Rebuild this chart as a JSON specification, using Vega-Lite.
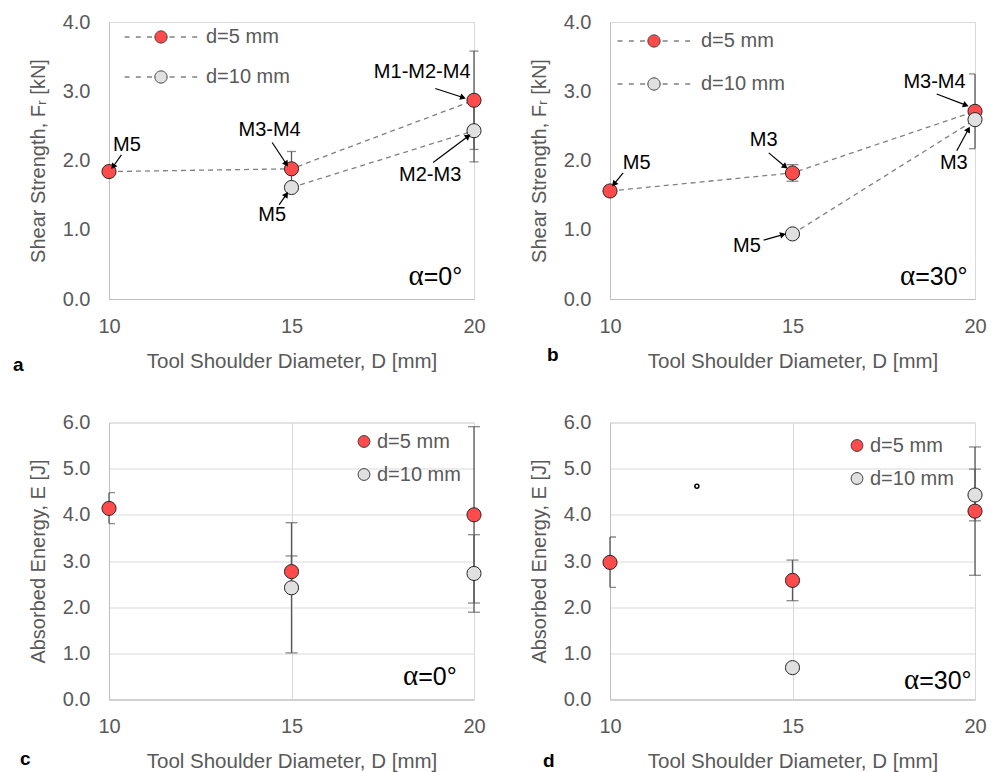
{
  "$schema": "https://vega.github.io/schema/vega-lite/v6.json",
  "padding": {"left": 12, "top": 11, "right": 5, "bottom": 5},
  "background": "white",
  "config": {
    "font": "Liberation Sans",
    "view": {"stroke": "#D9D9D9", "strokeWidth": 1},
    "axis": {"labelFontSize": 20, "labelColor": "#595959", "titleFontSize": 20.5, "titleFontWeight": "normal", "titleColor": "#595959", "ticks": false, "tickSize": 0, "domainColor": "#BFBFBF", "gridColor": "#D9D9D9", "labelPadding": 17, "labelFlush": false},
    "axisY": {"labelPadding": 19, "titleFontSize": 20},
    "legend": {"padding": 0, "labelFontSize": 20, "labelColor": "#595959", "title": null}
  },
  "datasets": {
    "a_pts": [
      {"x": 10, "y": 1.84, "s": "d=5 mm"}, {"x": 15, "y": 1.88, "s": "d=5 mm"}, {"x": 20, "y": 2.87, "s": "d=5 mm"},
      {"x": 15, "y": 1.61, "s": "d=10 mm"}, {"x": 20, "y": 2.43, "s": "d=10 mm"}
    ],
    "a_err": [
      {"x": 15, "lo": 1.63, "hi": 2.13, "s": "d=5 mm"}, {"x": 20, "lo": 2.16, "hi": 3.58, "s": "d=5 mm"}, {"x": 20, "lo": 1.98, "hi": 2.88, "s": "d=10 mm"}
    ],
    "a_lab": [
      {"x": 10.49, "y": 2.23, "label": "M5"}, {"x": 14.40, "y": 2.44, "label": "M3-M4"}, {"x": 14.47, "y": 1.22, "label": "M5"},
      {"x": 18.58, "y": 3.28, "label": "M1-M2-M4"}, {"x": 18.80, "y": 1.79, "label": "M2-M3"}
    ],
    "a_arr": [
      {"x": 10.34, "y": 2.08, "x2": 10.11, "y2": 1.91}, {"x": 14.47, "y": 2.26, "x2": 14.86, "y2": 1.95}, {"x": 14.66, "y": 1.36, "x2": 14.86, "y2": 1.51},
      {"x": 18.94, "y": 3.04, "x2": 19.70, "y2": 2.91}, {"x": 18.88, "y": 1.97, "x2": 19.84, "y2": 2.35}
    ],
    "b_pts": [
      {"x": 10, "y": 1.56, "s": "d=5 mm"}, {"x": 15, "y": 1.82, "s": "d=5 mm"}, {"x": 20, "y": 2.71, "s": "d=5 mm"},
      {"x": 15, "y": 0.94, "s": "d=10 mm"}, {"x": 20, "y": 2.59, "s": "d=10 mm"}
    ],
    "b_err": [
      {"x": 15, "lo": 1.70, "hi": 1.94, "s": "d=5 mm"}, {"x": 20, "lo": 2.17, "hi": 3.25, "s": "d=5 mm"}
    ],
    "b_lab": [
      {"x": 10.73, "y": 1.96, "label": "M5"}, {"x": 14.21, "y": 2.29, "label": "M3"}, {"x": 13.75, "y": 0.77, "label": "M5"},
      {"x": 18.89, "y": 3.13, "label": "M3-M4"}, {"x": 19.42, "y": 1.96, "label": "M3"}
    ],
    "b_arr": [
      {"x": 10.36, "y": 1.82, "x2": 10.11, "y2": 1.66}, {"x": 14.35, "y": 2.11, "x2": 14.80, "y2": 1.91}, {"x": 14.21, "y": 0.85, "x2": 14.74, "y2": 0.93},
      {"x": 18.95, "y": 2.96, "x2": 19.75, "y2": 2.80}, {"x": 19.50, "y": 2.14, "x2": 19.82, "y2": 2.45}
    ],
    "c_pts": [
      {"x": 10, "y": 4.14, "s": "d=5 mm"}, {"x": 15, "y": 2.77, "s": "d=5 mm"}, {"x": 20, "y": 4.00, "s": "d=5 mm"},
      {"x": 15, "y": 2.42, "s": "d=10 mm"}, {"x": 20, "y": 2.73, "s": "d=10 mm"}
    ],
    "c_err": [
      {"x": 10, "lo": 3.81, "hi": 4.48, "s": "d=5 mm"}, {"x": 15, "lo": 2.43, "hi": 3.11, "s": "d=5 mm"}, {"x": 20, "lo": 2.09, "hi": 5.91, "s": "d=5 mm"},
      {"x": 15, "lo": 1.01, "hi": 3.83, "s": "d=10 mm"}, {"x": 20, "lo": 1.89, "hi": 3.57, "s": "d=10 mm"}
    ],
    "d_pts": [
      {"x": 10, "y": 2.97, "s": "d=5 mm"}, {"x": 15, "y": 2.58, "s": "d=5 mm"}, {"x": 20, "y": 4.08, "s": "d=5 mm"},
      {"x": 15, "y": 0.69, "s": "d=10 mm"}, {"x": 20, "y": 4.43, "s": "d=10 mm"}
    ],
    "d_err": [
      {"x": 10, "lo": 2.43, "hi": 3.52, "s": "d=5 mm"}, {"x": 15, "lo": 2.14, "hi": 3.02, "s": "d=5 mm"}, {"x": 20, "lo": 2.69, "hi": 5.47, "s": "d=5 mm"},
      {"x": 20, "lo": 3.87, "hi": 4.99, "s": "d=10 mm"}
    ],
    "d_stray": [{"x": 12.38, "y": 4.62}],
    "alpha": [
      {"panel": "a", "x": 18.62, "y": 0.32, "sym": "α", "rest": "=0°"},
      {"panel": "b", "x": 18.36, "y": 0.32, "sym": "α", "rest": "=30°"},
      {"panel": "c", "x": 18.47, "y": 0.49, "sym": "α", "rest": "=0°"},
      {"panel": "d", "x": 18.47, "y": 0.40, "sym": "α", "rest": "=30°"}
    ]
  },
  "concat": [
    {
      "width": 365, "height": 277,
      "title": {"text": "a", "orient": "bottom", "anchor": "start", "frame": "group", "fontSize": 19, "fontWeight": "bold", "color": "#000000", "dx": -96, "dy": -16, "offset": 0},
      "encoding": {
        "x": {"field": "x", "type": "quantitative", "scale": {"domain": [10, 20], "nice": false, "zero": false}, "axis": {"values": [10, 15, 20], "title": "Tool Shoulder Diameter, D [mm]", "grid": false, "titlePadding": 15}},
        "y": {"field": "y", "type": "quantitative", "scale": {"domain": [0, 4], "nice": false, "zero": false}, "axis": {"values": [0, 1, 2, 3, 4], "format": ".1f", "title": "Shear Strength, Fᵣ [kN]", "grid": false, "titlePadding": 14}}
      },
      "layer": [
        {"data": {"name": "a_pts"}, "mark": {"type": "line", "stroke": "#808080", "strokeDash": [5, 4], "strokeWidth": 1.3}, "encoding": {"detail": {"field": "s"}, "order": {"field": "x"}}},
        {"data": {"name": "a_err"}, "mark": {"type": "rule", "color": "#595959", "strokeWidth": 1.3}, "encoding": {"y": {"field": "lo", "type": "quantitative", "scale": {"domain": [0, 4], "nice": false, "zero": false}, "axis": {"values": [0, 1, 2, 3, 4], "format": ".1f", "title": "Shear Strength, Fᵣ [kN]", "grid": false, "titlePadding": 14}}, "y2": {"field": "hi"}}},
        {"data": {"name": "a_err"}, "mark": {"type": "tick", "orient": "horizontal", "color": "#595959", "thickness": 1.3, "size": 9}, "encoding": {"y": {"field": "lo", "type": "quantitative", "scale": {"domain": [0, 4], "nice": false, "zero": false}, "axis": {"values": [0, 1, 2, 3, 4], "format": ".1f", "title": "Shear Strength, Fᵣ [kN]", "grid": false, "titlePadding": 14}}}},
        {"data": {"name": "a_err"}, "mark": {"type": "tick", "orient": "horizontal", "color": "#595959", "thickness": 1.3, "size": 9}, "encoding": {"y": {"field": "hi", "type": "quantitative", "scale": {"domain": [0, 4], "nice": false, "zero": false}, "axis": {"values": [0, 1, 2, 3, 4], "format": ".1f", "title": "Shear Strength, Fᵣ [kN]", "grid": false, "titlePadding": 14}}}},
        {"data": {"name": "a_pts"}, "mark": {"type": "point", "shape": "circle", "filled": true, "size": 200, "stroke": "#262626", "strokeWidth": 1, "opacity": 1},
          "encoding": {"fill": {"field": "s", "type": "nominal", "scale": {"domain": ["d=5 mm", "d=10 mm"], "range": ["#FF4B4B", "#E0E0E0"]},
            "legend": {"orient": "none", "legendX": 42, "legendY": 5, "symbolType": "M-5.95,0L-5.14,0M-4.11,0L-3.3,0M-2.28,0L-1.46,0M1.41,0L2.23,0M3.25,0L4.07,0M5.09,0L5.9,0M1,0A1,1,0,1,1,-1,0A1,1,0,1,1,1,0Z", "symbolSize": 150, "symbolStrokeColor": "#404040", "symbolStrokeWidth": 1, "labelOffset": 35, "rowPadding": 20}}}},
        {"data": {"name": "a_arr"}, "mark": {"type": "rule", "color": "#000000", "strokeWidth": 1.2}, "encoding": {"x2": {"field": "x2"}, "y2": {"field": "y2"}}},
        {"data": {"name": "a_arr"}, "transform": [{"calculate": "atan2((datum.x2-datum.x)*36.5,(datum.y2-datum.y)*69.25)*180/PI", "as": "ang"}],
          "mark": {"type": "point", "shape": "triangle-up", "filled": true, "color": "#000000", "size": 45, "opacity": 1},
          "encoding": {"x": {"field": "x2", "type": "quantitative", "scale": {"domain": [10, 20], "nice": false, "zero": false}, "axis": {"values": [10, 15, 20], "title": "Tool Shoulder Diameter, D [mm]", "grid": false, "titlePadding": 15}}, "y": {"field": "y2", "type": "quantitative", "scale": {"domain": [0, 4], "nice": false, "zero": false}, "axis": {"values": [0, 1, 2, 3, 4], "format": ".1f", "title": "Shear Strength, Fᵣ [kN]", "grid": false, "titlePadding": 14}}, "angle": {"field": "ang", "type": "quantitative", "scale": null}}},
        {"data": {"name": "a_lab"}, "mark": {"type": "text", "fontSize": 20, "color": "#000000", "align": "center", "baseline": "middle"}, "encoding": {"text": {"field": "label"}}},
        {"data": {"name": "alpha"}, "transform": [{"filter": "datum.panel == 'a'"}], "mark": {"type": "text", "font": "Liberation Serif", "fontSize": 29, "color": "#000000", "align": "right", "baseline": "middle", "dy": -1}, "encoding": {"text": {"field": "sym"}}},
        {"data": {"name": "alpha"}, "transform": [{"filter": "datum.panel == 'a'"}], "mark": {"type": "text", "fontSize": 25, "color": "#000000", "align": "left", "baseline": "middle"}, "encoding": {"text": {"field": "rest"}}}
      ]
    },
    {
      "width": 365, "height": 277,
      "title": {"text": "b", "orient": "bottom", "anchor": "start", "frame": "group", "fontSize": 19, "fontWeight": "bold", "color": "#000000", "dx": -63, "dy": -26, "offset": 0},
      "encoding": {
        "x": {"field": "x", "type": "quantitative", "scale": {"domain": [10, 20], "nice": false, "zero": false}, "axis": {"values": [10, 15, 20], "title": "Tool Shoulder Diameter, D [mm]", "grid": false, "titlePadding": 15}},
        "y": {"field": "y", "type": "quantitative", "scale": {"domain": [0, 4], "nice": false, "zero": false}, "axis": {"values": [0, 1, 2, 3, 4], "format": ".1f", "title": "Shear Strength, Fᵣ [kN]", "grid": false, "titlePadding": 14}}
      },
      "layer": [
        {"data": {"name": "b_pts"}, "mark": {"type": "line", "stroke": "#808080", "strokeDash": [5, 4], "strokeWidth": 1.3}, "encoding": {"detail": {"field": "s"}, "order": {"field": "x"}}},
        {"data": {"name": "b_err"}, "mark": {"type": "rule", "color": "#595959", "strokeWidth": 1.3}, "encoding": {"y": {"field": "lo", "type": "quantitative", "scale": {"domain": [0, 4], "nice": false, "zero": false}, "axis": {"values": [0, 1, 2, 3, 4], "format": ".1f", "title": "Shear Strength, Fᵣ [kN]", "grid": false, "titlePadding": 14}}, "y2": {"field": "hi"}}},
        {"data": {"name": "b_err"}, "mark": {"type": "tick", "orient": "horizontal", "color": "#595959", "thickness": 1.3, "size": 12, "clip": true}, "encoding": {"y": {"field": "lo", "type": "quantitative", "scale": {"domain": [0, 4], "nice": false, "zero": false}, "axis": {"values": [0, 1, 2, 3, 4], "format": ".1f", "title": "Shear Strength, Fᵣ [kN]", "grid": false, "titlePadding": 14}}}},
        {"data": {"name": "b_err"}, "mark": {"type": "tick", "orient": "horizontal", "color": "#595959", "thickness": 1.3, "size": 12, "clip": true}, "encoding": {"y": {"field": "hi", "type": "quantitative", "scale": {"domain": [0, 4], "nice": false, "zero": false}, "axis": {"values": [0, 1, 2, 3, 4], "format": ".1f", "title": "Shear Strength, Fᵣ [kN]", "grid": false, "titlePadding": 14}}}},
        {"data": {"name": "b_pts"}, "mark": {"type": "point", "shape": "circle", "filled": true, "size": 200, "stroke": "#262626", "strokeWidth": 1, "opacity": 1},
          "encoding": {"fill": {"field": "s", "type": "nominal", "scale": {"domain": ["d=5 mm", "d=10 mm"], "range": ["#FF4B4B", "#E0E0E0"]},
            "legend": {"orient": "none", "legendX": 34, "legendY": 9, "symbolType": "M-5.95,0L-5.14,0M-4.11,0L-3.3,0M-2.28,0L-1.46,0M1.41,0L2.23,0M3.25,0L4.07,0M5.09,0L5.9,0M1,0A1,1,0,1,1,-1,0A1,1,0,1,1,1,0Z", "symbolSize": 150, "symbolStrokeColor": "#404040", "symbolStrokeWidth": 1, "labelOffset": 37, "rowPadding": 23}}}},
        {"data": {"name": "b_arr"}, "mark": {"type": "rule", "color": "#000000", "strokeWidth": 1.2}, "encoding": {"x2": {"field": "x2"}, "y2": {"field": "y2"}}},
        {"data": {"name": "b_arr"}, "transform": [{"calculate": "atan2((datum.x2-datum.x)*36.5,(datum.y2-datum.y)*69.25)*180/PI", "as": "ang"}],
          "mark": {"type": "point", "shape": "triangle-up", "filled": true, "color": "#000000", "size": 45, "opacity": 1},
          "encoding": {"x": {"field": "x2", "type": "quantitative", "scale": {"domain": [10, 20], "nice": false, "zero": false}, "axis": {"values": [10, 15, 20], "title": "Tool Shoulder Diameter, D [mm]", "grid": false, "titlePadding": 15}}, "y": {"field": "y2", "type": "quantitative", "scale": {"domain": [0, 4], "nice": false, "zero": false}, "axis": {"values": [0, 1, 2, 3, 4], "format": ".1f", "title": "Shear Strength, Fᵣ [kN]", "grid": false, "titlePadding": 14}}, "angle": {"field": "ang", "type": "quantitative", "scale": null}}},
        {"data": {"name": "b_lab"}, "mark": {"type": "text", "fontSize": 20, "color": "#000000", "align": "center", "baseline": "middle"}, "encoding": {"text": {"field": "label"}}},
        {"data": {"name": "alpha"}, "transform": [{"filter": "datum.panel == 'b'"}], "mark": {"type": "text", "font": "Liberation Serif", "fontSize": 29, "color": "#000000", "align": "right", "baseline": "middle", "dy": -1}, "encoding": {"text": {"field": "sym"}}},
        {"data": {"name": "alpha"}, "transform": [{"filter": "datum.panel == 'b'"}], "mark": {"type": "text", "fontSize": 25, "color": "#000000", "align": "left", "baseline": "middle"}, "encoding": {"text": {"field": "rest"}}}
      ]
    },
    {
      "width": 365, "height": 277,
      "title": {"text": "c", "orient": "bottom", "anchor": "start", "frame": "group", "fontSize": 19, "fontWeight": "bold", "color": "#000000", "dx": -89, "dy": -22, "offset": 0},
      "encoding": {
        "x": {"field": "x", "type": "quantitative", "scale": {"domain": [10, 20], "nice": false, "zero": false}, "axis": {"values": [10, 15, 20], "title": "Tool Shoulder Diameter, D [mm]", "grid": true, "titlePadding": 15}},
        "y": {"field": "y", "type": "quantitative", "scale": {"domain": [0, 6], "nice": false, "zero": false}, "axis": {"values": [0, 1, 2, 3, 4, 5, 6], "format": ".1f", "title": "Absorbed Energy, E [J]", "grid": true, "titlePadding": 14}}
      },
      "layer": [
        {"data": {"name": "c_err"}, "mark": {"type": "rule", "color": "#595959", "strokeWidth": 1.3}, "encoding": {"y": {"field": "lo", "type": "quantitative", "scale": {"domain": [0, 6], "nice": false, "zero": false}, "axis": {"values": [0, 1, 2, 3, 4, 5, 6], "format": ".1f", "title": "Absorbed Energy, E [J]", "grid": true, "titlePadding": 14}}, "y2": {"field": "hi"}}},
        {"data": {"name": "c_err"}, "transform": [{"filter": "datum.x == 10"}], "mark": {"type": "tick", "orient": "horizontal", "color": "#595959", "thickness": 1.3, "size": 12, "clip": true}, "encoding": {"y": {"field": "lo", "type": "quantitative", "scale": {"domain": [0, 6], "nice": false, "zero": false}, "axis": {"values": [0, 1, 2, 3, 4, 5, 6], "format": ".1f", "title": "Absorbed Energy, E [J]", "grid": true, "titlePadding": 14}}}},
        {"data": {"name": "c_err"}, "transform": [{"filter": "datum.x == 10"}], "mark": {"type": "tick", "orient": "horizontal", "color": "#595959", "thickness": 1.3, "size": 12, "clip": true}, "encoding": {"y": {"field": "hi", "type": "quantitative", "scale": {"domain": [0, 6], "nice": false, "zero": false}, "axis": {"values": [0, 1, 2, 3, 4, 5, 6], "format": ".1f", "title": "Absorbed Energy, E [J]", "grid": true, "titlePadding": 14}}}},
        {"data": {"name": "c_err"}, "transform": [{"filter": "datum.x != 10"}], "mark": {"type": "tick", "orient": "horizontal", "color": "#595959", "thickness": 1.3, "size": 12}, "encoding": {"y": {"field": "lo", "type": "quantitative", "scale": {"domain": [0, 6], "nice": false, "zero": false}, "axis": {"values": [0, 1, 2, 3, 4, 5, 6], "format": ".1f", "title": "Absorbed Energy, E [J]", "grid": true, "titlePadding": 14}}}},
        {"data": {"name": "c_err"}, "transform": [{"filter": "datum.x != 10"}], "mark": {"type": "tick", "orient": "horizontal", "color": "#595959", "thickness": 1.3, "size": 12}, "encoding": {"y": {"field": "hi", "type": "quantitative", "scale": {"domain": [0, 6], "nice": false, "zero": false}, "axis": {"values": [0, 1, 2, 3, 4, 5, 6], "format": ".1f", "title": "Absorbed Energy, E [J]", "grid": true, "titlePadding": 14}}}},
        {"data": {"name": "c_pts"}, "mark": {"type": "point", "shape": "circle", "filled": true, "size": 200, "stroke": "#262626", "strokeWidth": 1, "opacity": 1},
          "encoding": {"fill": {"field": "s", "type": "nominal", "scale": {"domain": ["d=5 mm", "d=10 mm"], "range": ["#FF4B4B", "#E0E0E0"]},
            "legend": {"orient": "none", "legendX": 245, "legendY": 9, "symbolType": "circle", "symbolSize": 140, "symbolStrokeColor": "#404040", "symbolStrokeWidth": 1, "labelOffset": 3, "rowPadding": 13}}}},
        {"data": {"name": "alpha"}, "transform": [{"filter": "datum.panel == 'c'"}], "mark": {"type": "text", "font": "Liberation Serif", "fontSize": 29, "color": "#000000", "align": "right", "baseline": "middle", "dy": -1}, "encoding": {"text": {"field": "sym"}}},
        {"data": {"name": "alpha"}, "transform": [{"filter": "datum.panel == 'c'"}], "mark": {"type": "text", "fontSize": 25, "color": "#000000", "align": "left", "baseline": "middle"}, "encoding": {"text": {"field": "rest"}}}
      ]
    },
    {
      "width": 365, "height": 277,
      "title": {"text": "d", "orient": "bottom", "anchor": "start", "frame": "group", "fontSize": 19, "fontWeight": "bold", "color": "#000000", "dx": -67, "dy": -20, "offset": 0},
      "encoding": {
        "x": {"field": "x", "type": "quantitative", "scale": {"domain": [10, 20], "nice": false, "zero": false}, "axis": {"values": [10, 15, 20], "title": "Tool Shoulder Diameter, D [mm]", "grid": true, "titlePadding": 15}},
        "y": {"field": "y", "type": "quantitative", "scale": {"domain": [0, 6], "nice": false, "zero": false}, "axis": {"values": [0, 1, 2, 3, 4, 5, 6], "format": ".1f", "title": "Absorbed Energy, E [J]", "grid": true, "titlePadding": 14}}
      },
      "layer": [
        {"data": {"name": "d_err"}, "mark": {"type": "rule", "color": "#595959", "strokeWidth": 1.3}, "encoding": {"y": {"field": "lo", "type": "quantitative", "scale": {"domain": [0, 6], "nice": false, "zero": false}, "axis": {"values": [0, 1, 2, 3, 4, 5, 6], "format": ".1f", "title": "Absorbed Energy, E [J]", "grid": true, "titlePadding": 14}}, "y2": {"field": "hi"}}},
        {"data": {"name": "d_err"}, "transform": [{"filter": "datum.x == 10"}], "mark": {"type": "tick", "orient": "horizontal", "color": "#595959", "thickness": 1.3, "size": 12, "clip": true}, "encoding": {"y": {"field": "lo", "type": "quantitative", "scale": {"domain": [0, 6], "nice": false, "zero": false}, "axis": {"values": [0, 1, 2, 3, 4, 5, 6], "format": ".1f", "title": "Absorbed Energy, E [J]", "grid": true, "titlePadding": 14}}}},
        {"data": {"name": "d_err"}, "transform": [{"filter": "datum.x == 10"}], "mark": {"type": "tick", "orient": "horizontal", "color": "#595959", "thickness": 1.3, "size": 12, "clip": true}, "encoding": {"y": {"field": "hi", "type": "quantitative", "scale": {"domain": [0, 6], "nice": false, "zero": false}, "axis": {"values": [0, 1, 2, 3, 4, 5, 6], "format": ".1f", "title": "Absorbed Energy, E [J]", "grid": true, "titlePadding": 14}}}},
        {"data": {"name": "d_err"}, "transform": [{"filter": "datum.x != 10"}], "mark": {"type": "tick", "orient": "horizontal", "color": "#595959", "thickness": 1.3, "size": 12}, "encoding": {"y": {"field": "lo", "type": "quantitative", "scale": {"domain": [0, 6], "nice": false, "zero": false}, "axis": {"values": [0, 1, 2, 3, 4, 5, 6], "format": ".1f", "title": "Absorbed Energy, E [J]", "grid": true, "titlePadding": 14}}}},
        {"data": {"name": "d_err"}, "transform": [{"filter": "datum.x != 10"}], "mark": {"type": "tick", "orient": "horizontal", "color": "#595959", "thickness": 1.3, "size": 12}, "encoding": {"y": {"field": "hi", "type": "quantitative", "scale": {"domain": [0, 6], "nice": false, "zero": false}, "axis": {"values": [0, 1, 2, 3, 4, 5, 6], "format": ".1f", "title": "Absorbed Energy, E [J]", "grid": true, "titlePadding": 14}}}},
        {"data": {"name": "d_pts"}, "mark": {"type": "point", "shape": "circle", "filled": true, "size": 200, "stroke": "#262626", "strokeWidth": 1, "opacity": 1},
          "encoding": {"fill": {"field": "s", "type": "nominal", "scale": {"domain": ["d=5 mm", "d=10 mm"], "range": ["#FF4B4B", "#E0E0E0"]},
            "legend": {"orient": "none", "legendX": 237, "legendY": 13, "symbolType": "circle", "symbolSize": 140, "symbolStrokeColor": "#404040", "symbolStrokeWidth": 1, "labelOffset": 3, "rowPadding": 13}}}},
        {"data": {"name": "d_stray"}, "mark": {"type": "point", "shape": "circle", "filled": false, "size": 16, "stroke": "#000000", "strokeWidth": 1.5, "opacity": 1}},
        {"data": {"name": "alpha"}, "transform": [{"filter": "datum.panel == 'd'"}], "mark": {"type": "text", "font": "Liberation Serif", "fontSize": 29, "color": "#000000", "align": "right", "baseline": "middle", "dy": -1}, "encoding": {"text": {"field": "sym"}}},
        {"data": {"name": "alpha"}, "transform": [{"filter": "datum.panel == 'd'"}], "mark": {"type": "text", "fontSize": 25, "color": "#000000", "align": "left", "baseline": "middle"}, "encoding": {"text": {"field": "rest"}}}
      ]
    }
  ],
  "columns": 2,
  "spacing": {"row": 123.5, "column": 136},
  "bounds": "flush",
  "resolve": {"scale": {"fill": "independent"}, "legend": {"fill": "independent"}}
}
